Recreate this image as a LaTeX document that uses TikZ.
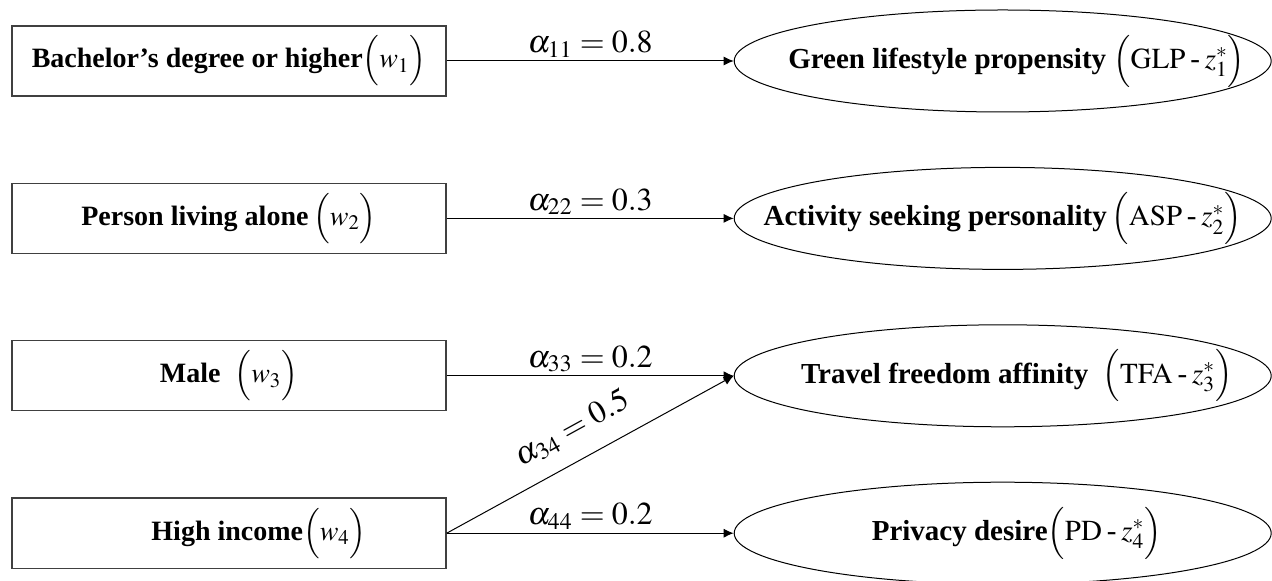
\documentclass[tikz,border=0pt]{standalone}
\usepackage{amsmath}
\usepackage{mathptmx}
\usepackage{fontspec}
\setmainfont{Liberation Serif}
\usepackage{tikz}
\usetikzlibrary{arrows.meta,positioning,shapes.geometric}
\tikzset{
    varbox/.style={
        draw=black!75,
        line width=0.7pt,
        align=center,
        minimum height=35pt,
        minimum width=217pt,
        inner sep=2pt,
        font=\fontsize{14}{17}\selectfont
    },
    latent/.style={
        draw,
        ellipse,
        line width=0.5pt,
        align=center,
        minimum height=51pt,
        minimum width=268.5pt,
        inner xsep=-45pt,
        inner ysep=0pt,
        font=\fontsize{14.5}{17}\selectfont
    },
    flow/.style={-{Latex[length=5pt,width=4.5pt]}, line width=0.5pt},
    coef/.style={font=\fontsize{16}{19}\selectfont, inner sep=1.5pt}
}
\newcommand{\dsh}{\mbox{\,-\,}}

\begin{document}
\begin{tikzpicture}[x=0.5pt, y=-0.5pt, node distance=43pt and 143.5pt]
        \useasboundingbox (0,0) rectangle (1272,581);

        \node[varbox] (bachelor) at (229,61) {\textbf{Bachelor’s degree or higher}$\Bigl(w_1\Bigr)$};
        \node[varbox, below=of bachelor] (alone) {\textbf{Person living alone}\,$\Bigl(w_2\Bigr)$};
        \node[varbox, below=of alone] (male) {\textbf{Male}\ \ $\Bigl(w_3\Bigr)$};
        \node[varbox, below=of male] (income) {\hspace*{30pt}\textbf{High income}$\Bigl(w_4\Bigr)$};

        \node[latent, right=of bachelor] (glp) {\hspace*{14pt}\textbf{Green lifestyle propensity}\ $\Bigl(\mathrm{GLP}\dsh z_1^{*}\Bigr)$};
        \node[latent, right=of alone] (asp) {\textbf{Activity seeking personality}\,$\Bigl(\mathrm{ASP}\dsh z_2^{*}\Bigr)$};
        \node[latent, right=of male] (tfa) {\hspace*{14pt}\textbf{Travel freedom affinity}\ \ $\Bigl(\mathrm{TFA}\dsh z_3^{*}\Bigr)$};
        \node[latent, right=of income] (pd) {\hspace*{14pt}\textbf{Privacy desire}$\Bigl(\mathrm{PD}\dsh z_4^{*}\Bigr)$};

        \draw[flow] (bachelor) -- node[coef, above] {$\alpha_{11}=0.8$} (glp);
        \draw[flow] (alone) -- node[coef, above] {$\alpha_{22}=0.3$} (asp);
        \draw[flow] (male) -- node[coef, above] {$\alpha_{33}=0.2$} (tfa);
        \draw[flow] (income.east) -- node[coef, above=7pt, sloped, pos=0.49] {$\alpha_{34}=0.5$} (tfa.west);
        \draw[flow] (income) -- node[coef, above] {$\alpha_{44}=0.2$} (pd);
    \end{tikzpicture}
\end{document}
